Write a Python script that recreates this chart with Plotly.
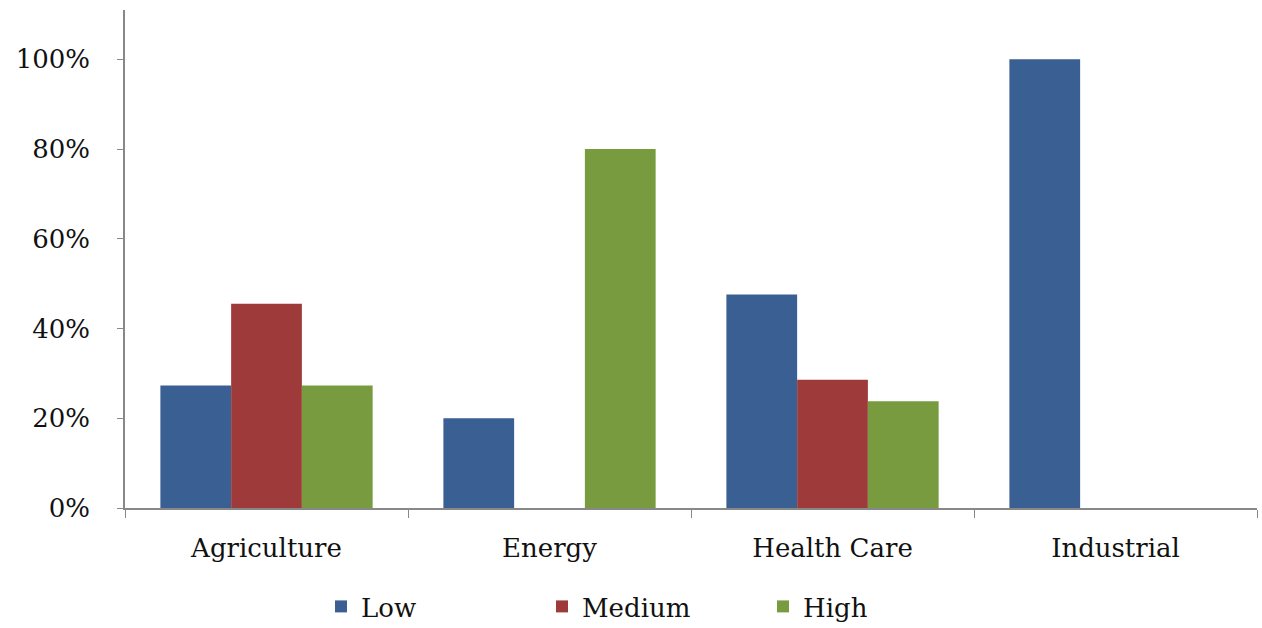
import plotly.graph_objects as go

categories = ["Agriculture", "Energy", "Health Care", "Industrial"]
low = [0.273, 0.20, 0.476, 1.00]
medium = [0.455, 0.0, 0.286, 0.0]
high = [0.273, 0.80, 0.238, 0.0]

colors = {"Low": "#3A5F93", "Medium": "#9E3A39", "High": "#779B3E"}
font_family = "DejaVu Serif"

fig = go.Figure()
for name, vals in [("Low", low), ("Medium", medium), ("High", high)]:
    fig.add_trace(go.Bar(x=categories, y=vals, name=name,
                         marker=dict(color=colors[name], line=dict(width=0))))

W, H = 1262, 628
ml, mr, mt, mb = 125, 5, 10, 120

fig.update_layout(
    width=W, height=H,
    margin=dict(l=ml, r=mr, t=mt, b=mb, autoexpand=False),
    paper_bgcolor="white", plot_bgcolor="white",
    barmode="group", bargap=0.25, bargroupgap=0,
    font=dict(family=font_family, size=26, color="#111111"),
    showlegend=True,
    legend=dict(orientation="h", xref="container", x=321 / W, xanchor="left",
                yref="container", y=(H - 583) / H, yanchor="top",
                entrywidth=176, entrywidthmode="pixels",
                font=dict(size=26), itemwidth=30, traceorder="normal"),
    xaxis=dict(showline=True, linecolor="#888888", linewidth=1.5,
               ticks="outside", tickson="boundaries", ticklen=8, tickcolor="#888888",
               tickfont=dict(size=26), showgrid=False, ticklabelstandoff=16,
               automargin=False),
    yaxis=dict(range=[0, 1.11], tickvals=[0, 0.2, 0.4, 0.6, 0.8, 1.0],
               tickformat=".0%", showline=True, linecolor="#888888", linewidth=1.5,
               ticks="outside", ticklen=6, tickcolor="#888888", showgrid=False,
               zeroline=False, tickfont=dict(size=26), ticklabelstandoff=22,
               automargin=False),
)

fig.write_html("out.html")
